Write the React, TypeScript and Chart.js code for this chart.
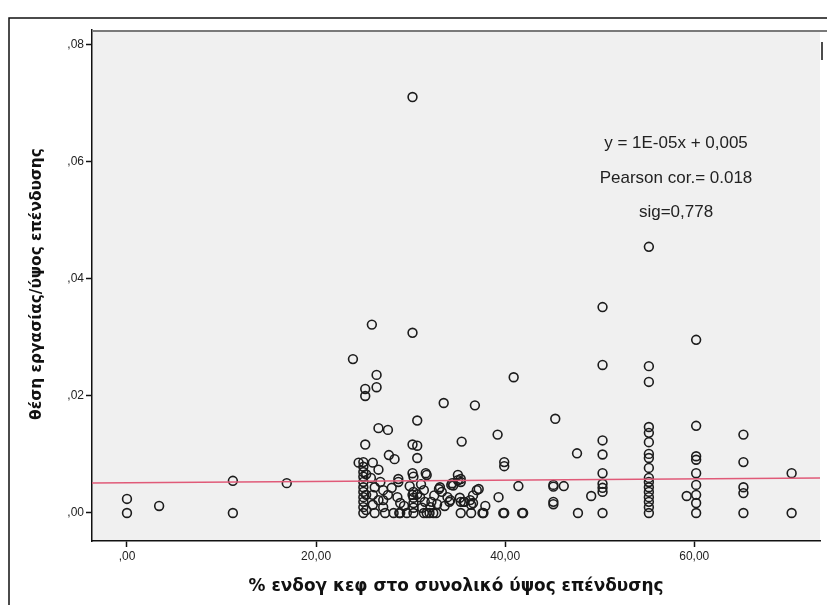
import React, { useEffect, useRef } from "react";
import { Chart, registerables } from "chart.js";

Chart.register(...registerables);

// ---- data ----
const leftGroupX = [0, 0, 3.4, 11.2, 11.2, 16.9];
const leftGroupY = [0.0024, 0, 0.0012, 0.0055, 0, 0.0051];

const upperX = [30.2, 55.2, 50.3, 25.9, 30.2, 60.2, 23.9, 50.3, 55.2, 26.4, 40.9, 55.2, 25.2, 26.4, 25.2, 33.5, 36.8, 30.7, 45.3, 26.6, 27.6, 60.2, 65.2, 39.2, 35.4, 50.3, 25.2, 30.2, 30.7, 47.6, 50.3, 27.7, 28.3, 30.7, 39.9, 39.9, 24.5, 26.0, 26.6, 25.8];
const upperY = [0.0711, 0.0455, 0.0352, 0.0322, 0.0308, 0.0296, 0.0263, 0.0253, 0.0251, 0.0236, 0.0232, 0.0224, 0.0212, 0.0215, 0.0200, 0.0188, 0.0184, 0.0158, 0.0161, 0.0145, 0.0142, 0.0149, 0.0134, 0.0134, 0.0122, 0.0124, 0.0117, 0.0117, 0.0115, 0.0102, 0.0100, 0.0099, 0.0092, 0.0094, 0.0087, 0.0080, 0.0086, 0.0086, 0.0074, 0.0060];

const col25X = [25.0, 25.0, 25.0, 25.0, 25.0, 25.0, 25.0, 25.0, 25.0, 25.0, 25.0, 25.3, 25.3, 25.3];
const col25Y = [0.0087, 0.0079, 0.0070, 0.0062, 0.0053, 0.0044, 0.0036, 0.0027, 0.0019, 0.0010, 0, 0.0066, 0.0031, 0.0005];

const col55X = [55.2, 55.2, 55.2, 55.2, 55.2, 55.2, 55.2, 55.2, 55.2, 55.2, 55.2, 55.2, 55.2, 55.2];
const col55Y = [0.0147, 0.0137, 0.0121, 0.0101, 0.0094, 0.0077, 0.0060, 0.0053, 0.0044, 0.0027, 0.0019, 0.0010, 0, 0.0036];

const col60X = [60.2, 60.2, 60.2, 60.2, 60.2, 60.2, 60.2, 59.2];
const col60Y = [0.0097, 0.0091, 0.0068, 0.0048, 0.0031, 0.0017, 0, 0.0029];

const col65X = [65.2, 65.2, 65.2, 65.2, 70.3, 70.3];
const col65Y = [0.0087, 0.0044, 0.0034, 0, 0.0068, 0];

const col50X = [50.3, 50.3, 50.3, 50.3, 50.3, 49.1, 45.1, 45.1, 46.2, 45.1, 45.1, 47.7];
const col50Y = [0.0068, 0.0050, 0.0043, 0.0036, 0, 0.0029, 0.0048, 0.0045, 0.0046, 0.0019, 0.0015, 0];

const midX = [41.4, 41.8, 39.8, 39.3, 37.9, 37.6, 37.2, 36.6, 36.6, 36.4, 35.3, 35.3, 34.5, 35.3, 35.7, 35.3, 36.4, 37.7];
const midY = [0.0046, 0, 0, 0.0027, 0.0012, 0, 0.0041, 0.0030, 0.0017, 0.0014, 0.0058, 0.0053, 0.0047, 0.0019, 0.0019, 0, 0, 0];

const clusterX = [26.2, 27.1, 28.0, 28.7, 30.2, 30.3, 31.6, 26.0, 26.6, 27.1, 26.0, 27.1, 28.2, 28.9, 29.6, 30.3, 30.3, 30.3, 30.3, 30.3, 31.0, 31.5, 32.1, 31.2, 31.7, 32.4, 33.1, 33.9, 34.2, 35.0, 35.0, 34.4, 35.2, 36.3, 35.6, 37.0, 28.6, 28.9, 28.7, 30.2, 30.7, 31.4, 33.0, 33.3, 34.3, 29.3, 32.2, 32.8, 34.1, 26.2, 27.3, 28.8, 31.4, 32.0, 32.7, 39.9, 41.9, 31.7, 27.6, 29.9, 32.5, 33.6, 26.8, 31.1];
const clusterY = [0.0044, 0.0039, 0.0043, 0.0058, 0.0068, 0.0062, 0.0068, 0.0031, 0.0022, 0.0022, 0.0014, 0.0010, 0, 0, 0, 0.0036, 0.0026, 0.0017, 0.0009, 0, 0.0027, 0.0019, 0.0010, 0.0009, 0, 0, 0.0044, 0.0027, 0.0022, 0.0065, 0.0056, 0.0051, 0.0026, 0.0022, 0.0019, 0.0039, 0.0027, 0.0017, 0.0053, 0.0031, 0.0032, 0.0039, 0.0041, 0.0036, 0.0048, 0.0012, 0.0019, 0.0015, 0.0019, 0, 0, 0, 0, 0, 0, 0, 0, 0.0065, 0.0031, 0.0046, 0.0030, 0.0012, 0.0053, 0.0049];

const fitX = [-3.7, 73.3];
const fitY = [0.00513, 0.0060];

const xTicks = [0, 20, 40, 60];
const yTicks = [0, 0.02, 0.04, 0.06, 0.08];
const xRange = [-3.7, 73.3];
const yRange = [-0.00479, 0.08256];

const annotationLines = ["y = 1E-05x + 0,005", "Pearson cor.= 0.018", "sig=0,778"];
const xTitle = "% ενδογ κεφ στο συνολικό ύψος επένδυσης";
const yTitle = "θέση εργασίας/ύψος επένδυσης";

const xGroups = [leftGroupX, upperX, col25X, col55X, col60X, col65X, col50X, midX, clusterX];
const yGroups = [leftGroupY, upperY, col25Y, col55Y, col60Y, col65Y, col50Y, midY, clusterY];

function fmt(v: number): string {
  const s = Math.abs(v).toFixed(2).replace(".", ",");
  return s.startsWith("0,") ? s.slice(1) : s;
}

const TITLE_FAMILY = "'DejaVu Sans', 'Liberation Sans', Arial, sans-serif";

function fittedFont(ctx: CanvasRenderingContext2D, text: string, target: number): string {
  ctx.font = `bold 16px ${TITLE_FAMILY}`;
  const w = ctx.measureText(text).width;
  const size = (16 * target) / w;
  return `bold ${size.toFixed(2)}px ${TITLE_FAMILY}`;
}

export default function App() {
  const ref = useRef<HTMLCanvasElement | null>(null);

  useEffect(() => {
    const canvas = ref.current;
    if (!canvas) return;
    const points: { x: number; y: number }[] = [];
    xGroups.forEach((g, gi) => g.forEach((x, i) => points.push({ x, y: yGroups[gi][i] })));

    const framePlugin = {
      id: "frame",
      beforeDraw(chart: any) {
        const { ctx, chartArea: a } = chart;
        ctx.save();
        ctx.fillStyle = "#ffffff";
        ctx.fillRect(0, 0, chart.width, chart.height);
        ctx.fillStyle = "#f0f0f0";
        ctx.fillRect(a.left, a.top, a.right - a.left, a.bottom - a.top);
        ctx.strokeStyle = "#111";
        ctx.lineWidth = 1.5;
        ctx.beginPath();
        ctx.moveTo(9, chart.height);
        ctx.lineTo(9, 18);
        ctx.lineTo(chart.width, 18);
        ctx.stroke();
        ctx.restore();
      },
      afterDraw(chart: any) {
        const { ctx, chartArea: a } = chart;
        ctx.save();
        ctx.strokeStyle = "#7a7a7a";
        ctx.lineWidth = 2;
        ctx.beginPath();
        ctx.moveTo(a.left, a.top + 1);
        ctx.lineTo(chart.width, a.top + 1);
        ctx.stroke();
        ctx.strokeStyle = "#111";
        ctx.lineWidth = 1.5;
        ctx.beginPath();
        ctx.moveTo(822, a.top + 12);
        ctx.lineTo(822, a.top + 30);
        ctx.stroke();

        ctx.fillStyle = "#222";
        ctx.textAlign = "center";
        ctx.textBaseline = "middle";
        ctx.font = "17px 'Liberation Sans', Arial, sans-serif";
        const cx = 676;
        [143, 178, 212].forEach((y, i) => ctx.fillText(annotationLines[i], cx, y));

        ctx.fillStyle = "#111";
        ctx.font = fittedFont(ctx, xTitle, 415);
        ctx.fillText(xTitle, (a.left + a.right) / 2, 587);
        ctx.font = fittedFont(ctx, yTitle, 272);
        ctx.translate(37, 284);
        ctx.rotate(-Math.PI / 2);
        ctx.fillText(yTitle, 0, 0);
        ctx.restore();
      },
    };

    const chart = new Chart(canvas, {
      type: "scatter",
      data: {
        datasets: [
          {
            label: "fit",
            type: "line",
            data: fitX.map((x, i) => ({ x, y: fitY[i] })),
            borderColor: "#e05a78",
            borderWidth: 1.5,
            pointRadius: 0,
            fill: false,
          } as any,
          {
            label: "obs",
            data: points,
            pointStyle: "circle",
            pointRadius: 4.4,
            pointBorderWidth: 1.6,
            borderColor: "#1c1c1c",
            backgroundColor: "rgba(0,0,0,0)",
          } as any,
        ],
      },
      options: {
        animation: false,
        responsive: false,
        devicePixelRatio: 1,
        layout: { padding: { top: 30, right: 7, left: 0, bottom: 0 } },
        plugins: { legend: { display: false }, tooltip: { enabled: false }, title: { display: false } },
        scales: {
          x: {
            type: "linear",
            min: xRange[0],
            max: xRange[1],
            afterBuildTicks: (s: any) => { s.ticks = xTicks.map((v) => ({ value: v })); },
            afterFit: (s: any) => { s.height = 64; },
            ticks: {
              callback: (v: any) => fmt(Number(v)),
              color: "#222",
              font: { size: 12, family: "'Liberation Sans', Arial, sans-serif" },
              padding: 2,
              maxRotation: 0,
            },
            grid: { drawOnChartArea: false, drawTicks: true, tickLength: 6, color: "#111", tickWidth: 1.5 },
            border: { display: true, color: "#111", width: 1.5 },
          },
          y: {
            type: "linear",
            min: yRange[0],
            max: yRange[1],
            afterBuildTicks: (s: any) => { s.ticks = yTicks.map((v) => ({ value: v })); },
            afterFit: (s: any) => { s.width = 92; },
            ticks: {
              callback: (v: any) => fmt(Number(v)),
              color: "#222",
              font: { size: 12, family: "'Liberation Sans', Arial, sans-serif" },
              padding: 2,
            },
            grid: { drawOnChartArea: false, drawTicks: true, tickLength: 6, color: "#111", tickWidth: 1.5 },
            border: { display: true, color: "#111", width: 1.5 },
          },
        },
      },
      plugins: [framePlugin],
    });
    return () => chart.destroy();
  }, []);

  return (
    <div style={{ position: "fixed", left: 0, top: 0, width: 827, height: 605, background: "#fff" }}>
      <canvas ref={ref} width={827} height={605} style={{ display: "block" }} />
    </div>
  );
}
